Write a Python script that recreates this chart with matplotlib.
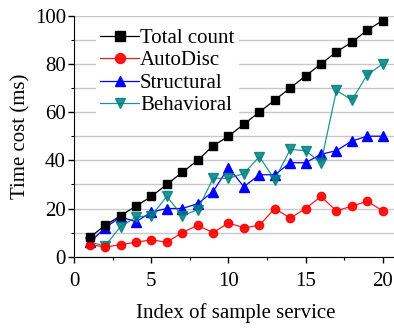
import matplotlib
matplotlib.use("Agg")
import matplotlib.pyplot as plt
from matplotlib.ticker import MultipleLocator

plt.rcParams["font.family"] = ["Liberation Serif", "DejaVu Serif"]

index = list(range(1, 21))
total_count = [8, 13, 17, 21, 25, 30, 35, 40, 46, 50, 55, 60, 65, 70, 75, 80, 85, 89, 94, 98]
autodisc = [5, 4, 5, 6, 7, 6, 10, 13, 10, 14, 12, 13, 20, 16, 20, 25, 19, 21, 23, 19]
structural = [6, 12, 16.5, 14.5, 18.5, 20, 20, 22, 27, 37, 29, 34, 34, 39, 39, 42.5, 44, 48, 50, 50]
behavioral = [6, 4.5, 12.5, 16.5, 17, 25, 17, 19.5, 32.5, 32.5, 34.5, 41.5, 32, 44.5, 44, 39, 69, 65, 75.5, 80]

fig = plt.figure(figsize=(3.94, 3.28), dpi=100)
ax = fig.add_axes([74.3 / 394, 71.3 / 328, 21 * 15.42 / 394, 241 / 328])

ax.plot(index, total_count, "-s", color="black", lw=0.9, ms=5.5, label="Total count", zorder=5)
ax.plot(index, autodisc, "-o", color="#ff0000", lw=0.9, ms=6, label="AutoDisc", alpha=0.9, zorder=4)
ax.plot(index, structural, "-^", color="#0000ff", lw=0.9, ms=6.5, label="Structural", zorder=3)
ax.plot(index, behavioral, "-v", color="#008080", lw=0.9, ms=6.5, label="Behavioral", alpha=0.85, zorder=3)

ax.set_xlim(0, 21)
ax.set_ylim(0, 100)
ax.xaxis.set_major_locator(MultipleLocator(5))
ax.xaxis.set_minor_locator(MultipleLocator(2.5))
ax.yaxis.set_major_locator(MultipleLocator(20))
ax.yaxis.set_minor_locator(MultipleLocator(10))
ax.grid(True, which="both", axis="y", color="#c8c8c8", lw=1)
ax.set_axisbelow(True)
for s in ["top", "right"]:
    ax.spines[s].set_visible(False)
ax.tick_params(which="major", length=4, width=1, labelsize=15)
ax.tick_params(axis="x", which="major", pad=7)
ax.tick_params(axis="y", which="major", pad=2)
ax.tick_params(which="minor", length=2.5, width=0.8)

ax.set_xlabel("Index of sample service", fontsize=15, labelpad=9)
ax.set_ylabel("Time cost (ms)", fontsize=15, labelpad=3)

leg = ax.legend(loc="upper left", bbox_to_anchor=(0.055, 0.982), frameon=True, fontsize=15,
                handlelength=1.85, handletextpad=0.05, labelspacing=0.14, borderpad=0.2,
                borderaxespad=0.2, markerscale=1.2)
leg.get_frame().set_edgecolor("none")
leg.get_frame().set_facecolor("white")
leg.get_frame().set_alpha(1)

fig.savefig("out.png", dpi=100)
